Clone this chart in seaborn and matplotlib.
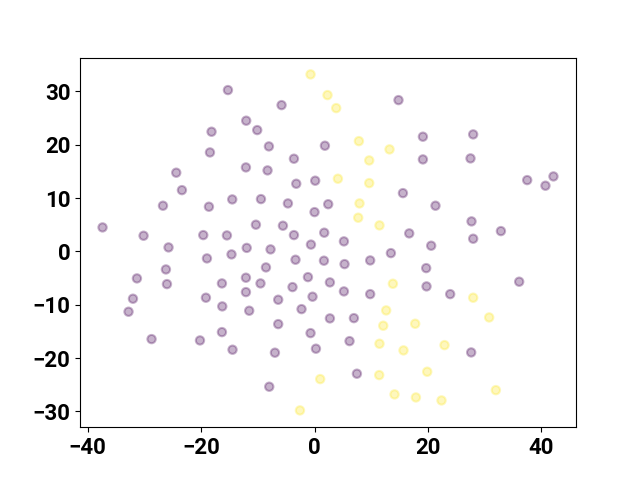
import matplotlib
matplotlib.use("Agg")
import matplotlib.pyplot as plt
import numpy as np
import pandas as pd
import seaborn as sns

# embedding coordinates, split by class
purple_x = [
    -15.26, -5.81, -12.04, -10.10, -18.15, -18.43, -8.04, 1.83, -3.63, -12.09,
    -8.28, -24.37, -23.37, -3.22, 0.12, -26.71, -18.61, -14.50, -9.44, -4.69,
    0.00, 2.41, -37.36, -30.13, -19.61, -15.44, -10.33, -5.57, -3.63, 1.71,
    -0.63, -25.73, -11.95, -7.75, 14.80, 19.10, 27.96, 19.10, 27.49, 37.48,
    40.70, 42.11, 15.58, 21.32, 27.67, 32.85, 27.96, 16.69, 20.56, 5.18,
    -18.96, -14.63, -3.35, 1.66, -8.56, -31.30, -26.19, -26.01, -16.32, -12.09,
    -9.52, -12.09, -3.88, -1.16, 2.71, -32.00, -32.78, -19.14, -16.26, -11.51,
    -6.40, -0.35, -2.29, 2.71, -6.40, -28.72, -20.19, -16.32, -14.45, -6.98,
    -0.70, 0.25, -7.98, 5.29, 9.81, 13.46, 19.68, 5.18, 9.81, 19.74,
    23.91, 36.07, 6.94, 6.17, 27.61, 7.47,
]
purple_y = [
    30.25, 27.43, 24.51, 22.75, 22.44, 18.56, 19.69, 19.82, 17.38, 15.75,
    15.19, 14.76, 11.49, 12.69, 13.26, 8.57, 8.38, 9.75, 9.81, 9.00,
    7.37, 8.85, 4.50, 2.94, 3.06, 3.00, 5.01, 4.82, 3.06, 3.51,
    1.28, 0.75, 0.66, 0.38, 28.37, 21.51, 21.94, 17.25, 17.44, 13.37,
    12.32, 14.06, 10.93, 8.57, 5.63, 3.81, 2.38, 3.38, 1.07, 1.88,
    -1.31, -0.56, -1.56, -1.74, -3.00, -5.06, -3.38, -6.13, -6.00, -4.93,
    -6.00, -7.63, -6.69, -4.82, -5.81, -8.87, -11.31, -8.68, -10.31, -11.12,
    -9.06, -8.49, -10.82, -12.56, -13.63, -16.44, -16.69, -15.13, -18.43, -18.99,
    -15.32, -18.24, -25.37, -2.38, -1.69, -0.32, -3.13, -7.50, -8.01, -6.56,
    -8.01, -5.68, -12.51, -16.82, -18.94, -22.93,
]
yellow_x = [
    -0.70, 2.29, 3.82, 7.82, 13.22, 9.64, 4.12, 9.64, 7.93, 7.70,
    11.45, 13.81, 27.96, 12.63, 12.11, 17.74, 30.78, 11.45, 15.68, 22.91,
    11.40, 19.86, 31.96, 14.10, 17.87, 22.38, 1.00, -2.57,
]
yellow_y = [
    33.19, 29.31, 26.87, 20.68, 19.13, 17.06, 13.63, 12.81, 9.00, 6.32,
    4.88, -6.06, -8.68, -11.06, -13.93, -13.56, -12.38, -17.31, -18.56, -17.57,
    -23.19, -22.56, -26.01, -26.81, -27.38, -27.94, -23.94, -29.81,
]

df = pd.DataFrame({
    "x": purple_x + yellow_x,
    "y": purple_y + yellow_y,
    "label": [0] * len(purple_x) + [1] * len(yellow_x),
})

# viridis end points (class 0 -> dark purple, class 1 -> yellow)
palette = {0: "#440154", 1: "#fde725"}

plt.rcParams["font.family"] = ["Roboto", "DejaVu Sans"]
plt.rcParams["font.weight"] = "bold"
plt.rcParams["xtick.labelsize"] = 16
plt.rcParams["ytick.labelsize"] = 16

fig, ax = plt.subplots(figsize=(6.4, 4.8), dpi=100)
sns.scatterplot(data=df, x="x", y="y", hue="label", palette=palette,
                alpha=0.3, s=36, edgecolor="face", linewidth=1.5,
                legend=False, ax=ax)
ax.set_xlabel("")
ax.set_ylabel("")

fig.savefig("out.png")
